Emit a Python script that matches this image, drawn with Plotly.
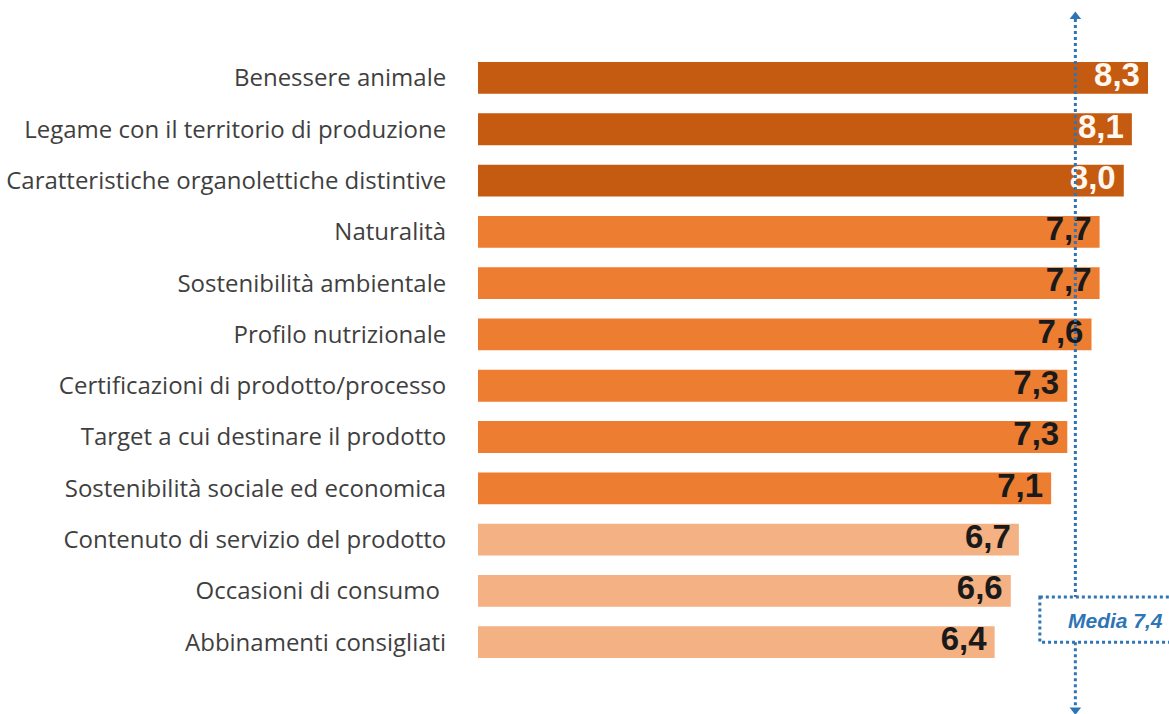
import plotly.graph_objects as go

categories = [
    "Benessere animale",
    "Legame con il territorio di produzione",
    "Caratteristiche organolettiche distintive",
    "Naturalità",
    "Sostenibilità ambientale",
    "Profilo nutrizionale",
    "Certificazioni di prodotto/processo",
    "Target a cui destinare il prodotto",
    "Sostenibilità sociale ed economica",
    "Contenuto di servizio del prodotto",
    "Occasioni di consumo ",
    "Abbinamenti consigliati",
]
values = [8.3, 8.1, 8.0, 7.7, 7.7, 7.6, 7.3, 7.3, 7.1, 6.7, 6.6, 6.4]
groups = ["high"] * 3 + ["mid"] * 6 + ["low"] * 3
media = 7.4
media_label = "Media 7,4"

bar_colors = {"high": "#C55A11", "mid": "#ED7D31", "low": "#F4B183"}
text_colors = {"high": "#FFF8F0", "mid": "#1A1A1A", "low": "#1A1A1A"}
blue = "#2E75B6"

pos = list(range(len(categories)))
labels = [f"{v:.1f}".replace(".", ",") for v in values]

fig = go.Figure()
fig.add_trace(go.Bar(
    y=pos, x=values, orientation="h",
    marker=dict(color=[bar_colors[g] for g in groups], line=dict(width=0)),
    width=0.62, hoverinfo="skip", showlegend=False,
))
fig.add_trace(go.Scatter(
    y=pos, x=[v - 0.1 for v in values], mode="text",
    text=labels, textposition="middle left",
    textfont=dict(family="Liberation Sans", size=33, color=[text_colors[g] for g in groups], weight="bold"),
    hoverinfo="skip", showlegend=False, cliponaxis=False,
))

# mean box (white fill over the line)
fig.add_shape(type="rect", xref="x", yref="y", x0=6.96, x1=9.5, y0=10.12, y1=11.0,
              line=dict(color=blue, width=3, dash="dot"), fillcolor="white", layer="above")
# mean line in two parts around the box
fig.add_shape(type="line", xref="x", yref="y", x0=media, x1=media, y0=-1.15, y1=10.12,
              line=dict(color=blue, width=3, dash="dot"), layer="above")
fig.add_shape(type="line", xref="x", yref="y", x0=media, x1=media, y0=11.0, y1=12.35,
              line=dict(color=blue, width=3, dash="dot"), layer="above")
fig.add_trace(go.Scatter(
    x=[media, media], y=[-1.2, 12.32], mode="markers",
    marker=dict(symbol=["triangle-up", "triangle-down"], size=10, color=blue),
    hoverinfo="skip", showlegend=False, cliponaxis=False,
))
fig.add_annotation(x=7.9, y=10.57, xref="x", yref="y", text=f"<b><i>{media_label}</i></b>",
                   showarrow=False, font=dict(family="Liberation Sans", size=21, color=blue))

fig.update_layout(
    width=1169, height=714,
    margin=dict(l=478, r=0, t=0, b=0),
    paper_bgcolor="white", plot_bgcolor="white",
    xaxis=dict(range=[0, 8.56], visible=False, showgrid=False, zeroline=False),
    yaxis=dict(range=[12.40, -1.52], tickmode="array", tickvals=pos, ticktext=categories,
               showgrid=False, zeroline=False, showline=False, automargin=False,
               ticks="outside", ticklen=26, tickcolor="rgba(0,0,0,0)",
               tickfont=dict(family="Open Sans", size=24, color="#3F3F3F")),
    bargap=0.38,
)

fig.write_html("out.html")
